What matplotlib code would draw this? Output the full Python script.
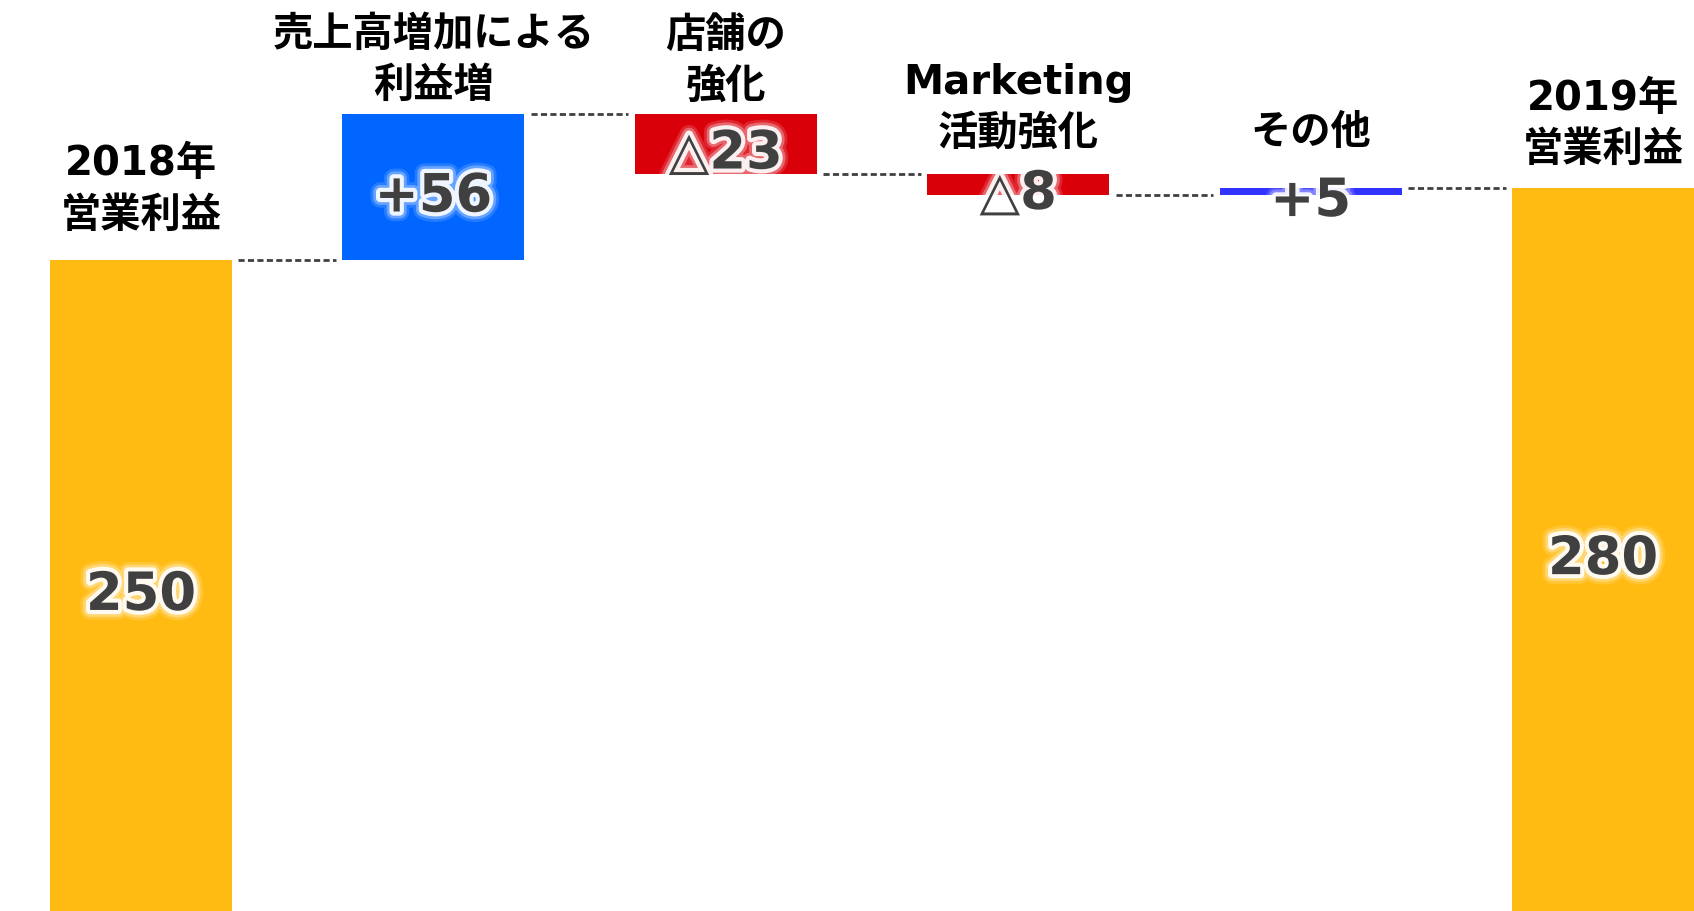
"""Waterfall chart: operating profit bridge 2018 -> 2019"""

import matplotlib
matplotlib.use("Agg")
import matplotlib.pyplot as plt
import matplotlib.patheffects as pe
import numpy as np

plt.rcParams['font.family'] = ['DejaVu Sans', 'Noto Sans CJK JP']

# data
categories = ['2018年\n営業利益', '売上高増加による\n利益増', '店舗の\n強化',
              'Marketing\n活動強化', 'その他', '2019年\n営業利益']
steps = [250, 56, -23, -8, 2.5]          # bar heights as drawn
value_labels = ['250', '+56', '△23', '△8', '+5', '280']

bar_colors = ['#FFBB11', '#0066FF', '#DA000A', '#DA000A', '#3333FF', '#FFBB11']
label_gap = [24, 8, 7, 20, 35, 18]       # px between category label and bar top

# running totals
ends = np.cumsum(steps)
final_total = ends[-1]
bottoms, heights = [], []
for i, step in enumerate(steps):
    if i == 0:
        bottoms.append(0)
        heights.append(step)
    else:
        bottoms.append(ends[i - 1] if step >= 0 else ends[i])
        heights.append(abs(step))
bottoms.append(0)
heights.append(final_total)

fig = plt.figure(figsize=(16.94, 9.11), dpi=100)
ax = fig.add_axes([0, 0, 1, 1])
ax.axis('off')

x = np.arange(len(categories))
ax.bar(x, heights, bottom=bottoms, width=0.623, color=bar_colors, linewidth=0)
ax.set_xlim(-0.482, 5.311)
ax.set_ylim(0, 349.8)

# dashed connectors between bars
levels = list(ends)
for i in range(len(categories) - 1):
    ax.plot([i + 0.333, i + 0.667], [levels[i], levels[i]], color='#404040',
            lw=2, linestyle=(0, (2.2, 1.2)))

# soft white halo behind the numbers
glow = [pe.Stroke(linewidth=14, foreground='white', alpha=0.15),
        pe.Stroke(linewidth=10, foreground='white', alpha=0.3),
        pe.Stroke(linewidth=6, foreground='white', alpha=0.9),
        pe.Normal()]

for i in range(len(categories)):
    top = bottoms[i] + heights[i]
    mid = bottoms[i] + heights[i] / 2
    ax.annotate(value_labels[i], xy=(x[i], mid), xytext=(0, -4),
                textcoords='offset pixels', ha='center', va='center_baseline',
                fontsize=38, fontweight='bold', color='#404040', path_effects=glow)
    ax.annotate(categories[i], xy=(x[i], top), xytext=(0, label_gap[i]),
                textcoords='offset pixels', ha='center', va='bottom',
                fontsize=29, fontweight='bold', color='black', linespacing=1.37)

fig.savefig('out.png', dpi=100)
